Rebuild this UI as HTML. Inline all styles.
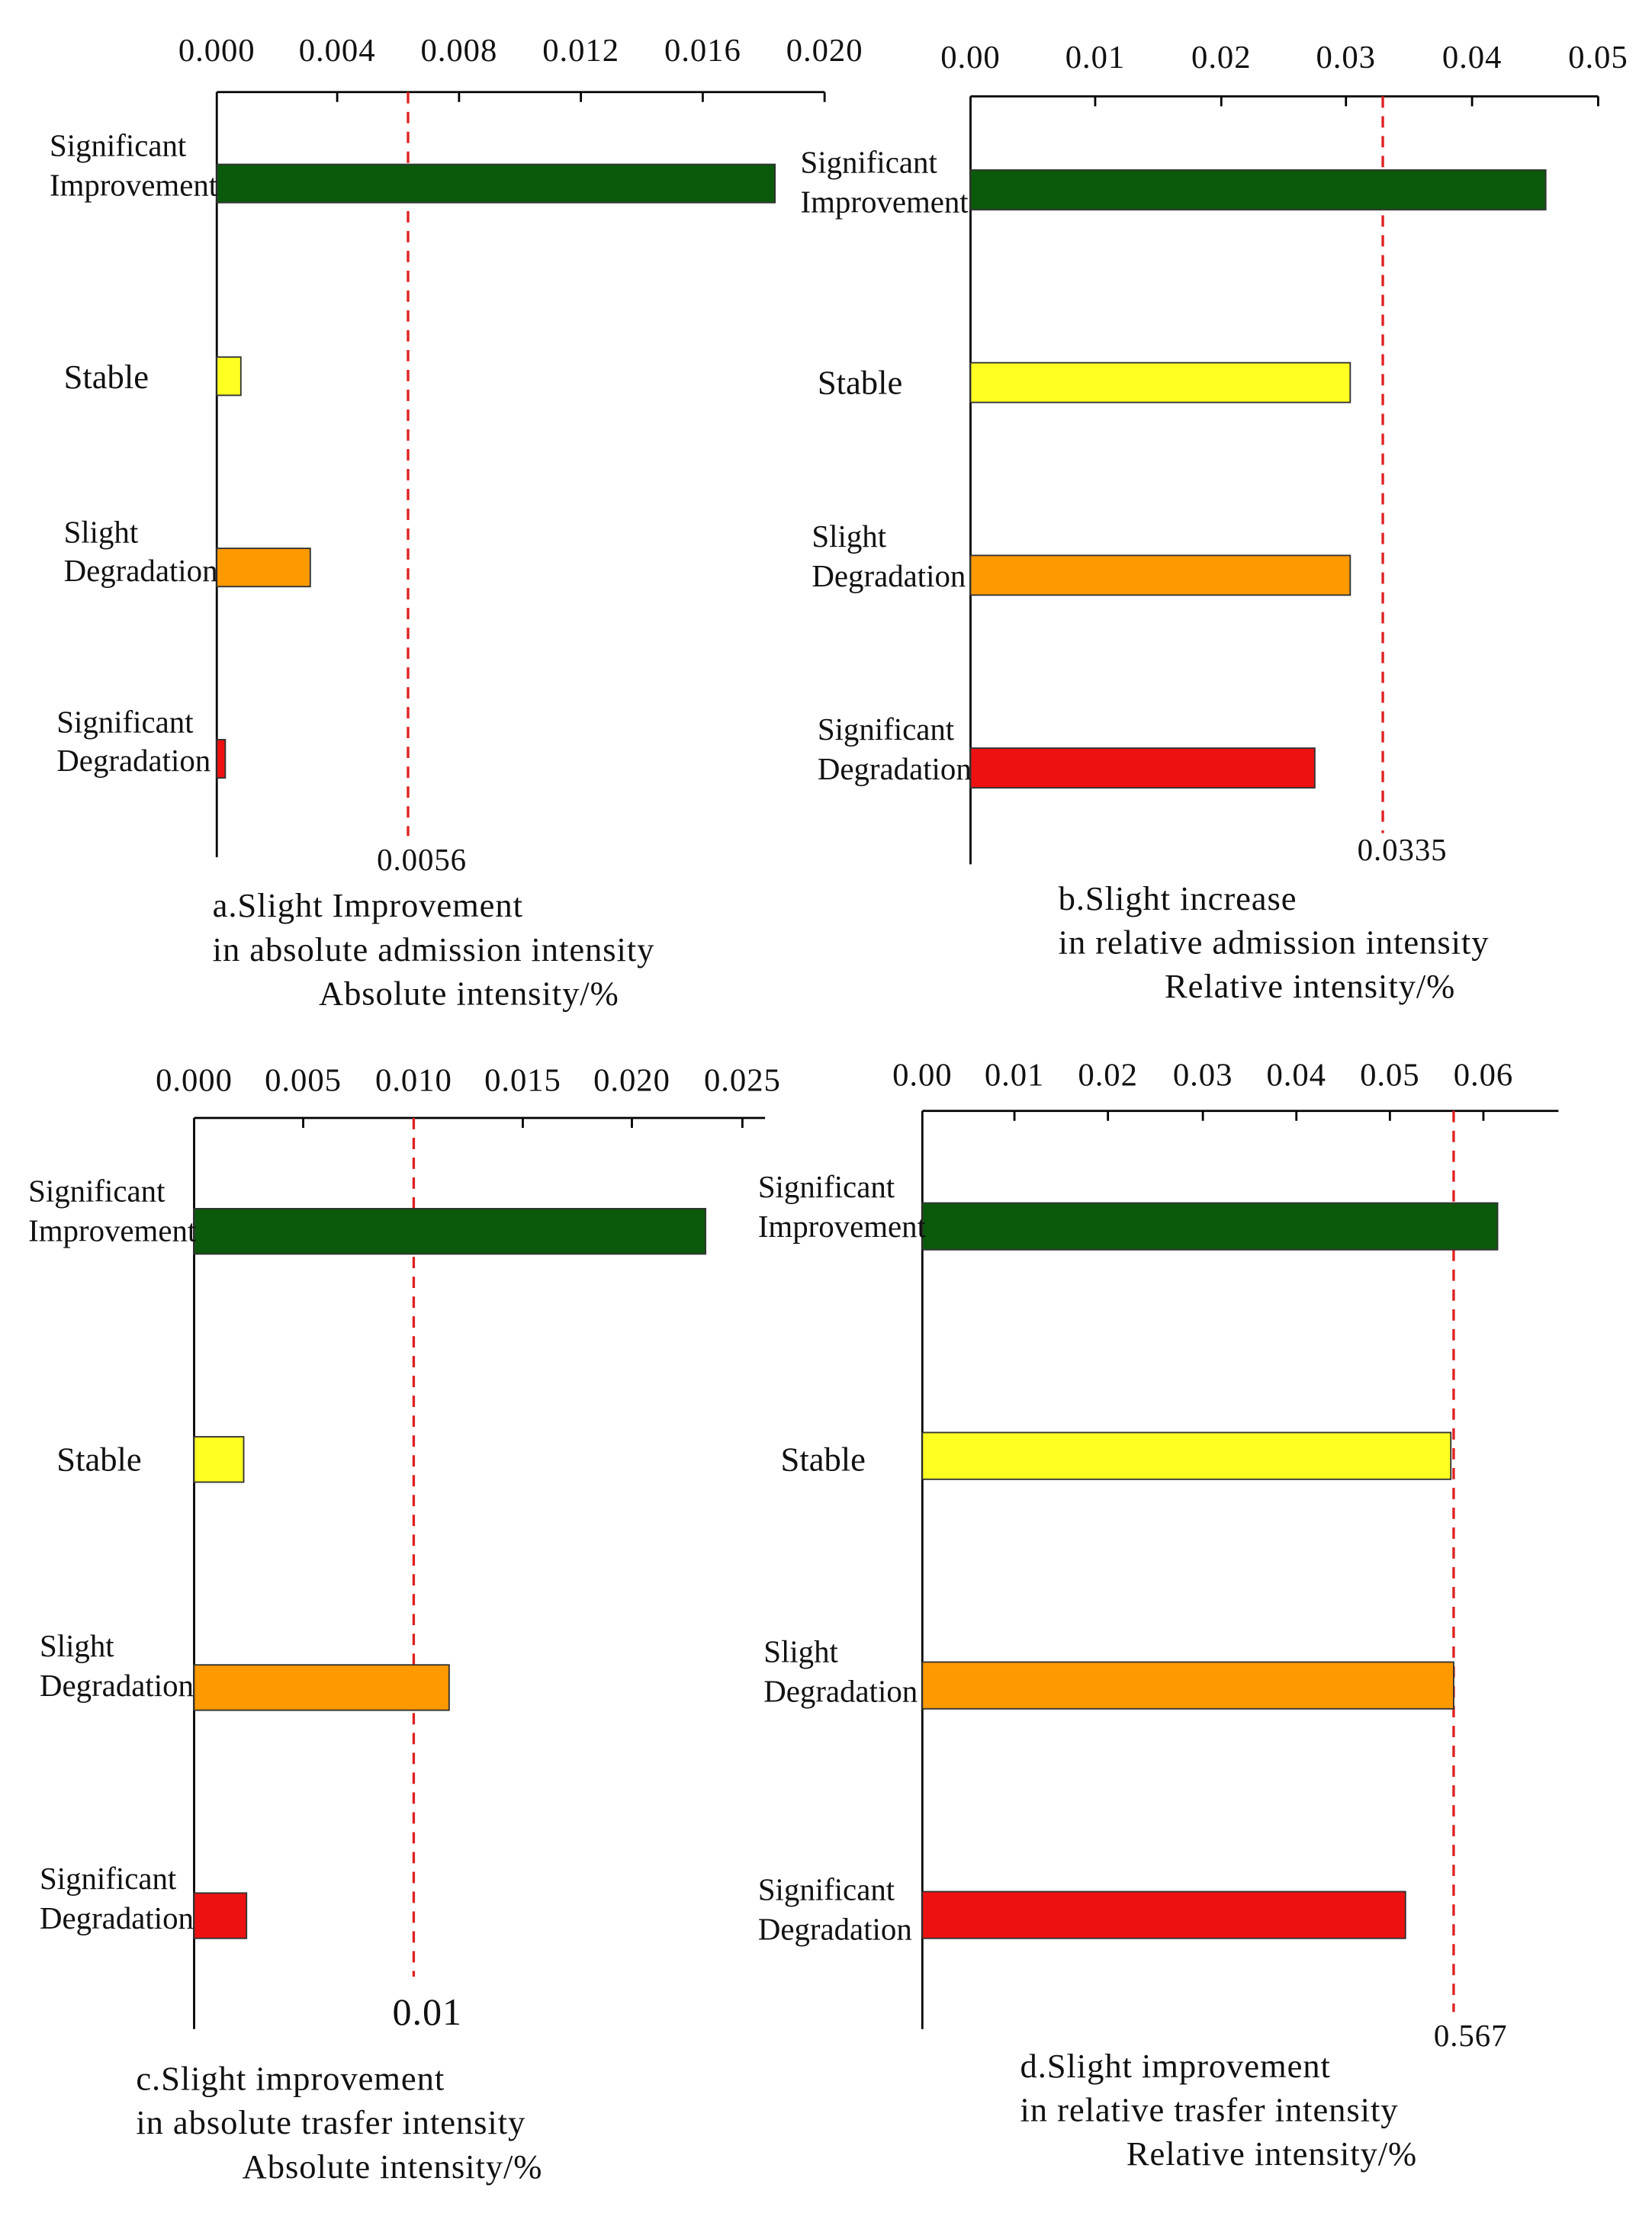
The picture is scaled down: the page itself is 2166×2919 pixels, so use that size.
<!DOCTYPE html>
<html><head><meta charset="utf-8"><style>
html,body{margin:0;padding:0;background:#fff;}
svg{display:block;}
text{font-family:"Liberation Serif",serif;fill:#111;}
.t{font-size:22px;}
.c{font-size:24px;letter-spacing:0.5px;}
.k{font-size:23px;letter-spacing:0.5px;text-anchor:middle;}
</style></head><body>
<svg width="2166" height="2919" viewBox="0 0 1166 1571" preserveAspectRatio="none" xmlns="http://www.w3.org/2000/svg">
<rect width="1166" height="1571" fill="#fff"/>
<g stroke="#000" stroke-width="1.5" fill="none">
<path d="M153 65H582M153 65V605M238 65v7M324 65v7M410 65v7M496 65v7M582 65v7"/>
<path d="M685 68H1128M685 68V610M773 68v7M862 68v7M950 68v7M1039 68v7M1128 68v7"/>
<path d="M137 789H540M137 789V1432M214 789v7M292 789v7M369 789v7M446 789v7M524 789v7"/>
<path d="M651 784H1100M651 784V1432M716 784v7M782 784v7M849 784v7M915 784v7M981 784v7M1047 784v7"/>
</g>
<g stroke="#e02020" stroke-width="1.8" stroke-dasharray="8,6">
<line x1="288" y1="65" x2="288" y2="590"/>
<line x1="976" y1="68" x2="976" y2="588"/>
<line x1="292" y1="789" x2="292" y2="1395"/>
<line x1="1026" y1="784" x2="1026" y2="1420"/>
</g>
<g stroke="#333" stroke-width="1">
<rect x="153" y="116" width="394" height="27" fill="#0b5a0b"/>
<rect x="153" y="252" width="17" height="27" fill="#ffff22"/>
<rect x="153" y="387" width="66" height="27" fill="#ff9900"/>
<rect x="153" y="522" width="6" height="27" fill="#ee1111"/>
<rect x="685" y="120" width="406" height="28" fill="#0b5a0b"/>
<rect x="685" y="256" width="268" height="28" fill="#ffff22"/>
<rect x="685" y="392" width="268" height="28" fill="#ff9900"/>
<rect x="685" y="528" width="243" height="28" fill="#ee1111"/>
<rect x="137" y="853" width="361" height="32" fill="#0b5a0b"/>
<rect x="137" y="1014" width="35" height="32" fill="#ffff22"/>
<rect x="137" y="1175" width="180" height="32" fill="#ff9900"/>
<rect x="137" y="1336" width="37" height="32" fill="#ee1111"/>
<rect x="651" y="849" width="406" height="33" fill="#0b5a0b"/>
<rect x="651" y="1011" width="373" height="33" fill="#ffff22"/>
<rect x="651" y="1173" width="375" height="33" fill="#ff9900"/>
<rect x="651" y="1335" width="341" height="33" fill="#ee1111"/>
</g>
<g class="k">
<text x="153" y="43">0.000</text><text x="238" y="43">0.004</text><text x="324" y="43">0.008</text><text x="410" y="43">0.012</text><text x="496" y="43">0.016</text><text x="582" y="43">0.020</text>
<text x="685" y="48">0.00</text><text x="773" y="48">0.01</text><text x="862" y="48">0.02</text><text x="950" y="48">0.03</text><text x="1039" y="48">0.04</text><text x="1128" y="48">0.05</text>
<text x="137" y="770">0.000</text><text x="214" y="770">0.005</text><text x="292" y="770">0.010</text><text x="369" y="770">0.015</text><text x="446" y="770">0.020</text><text x="524" y="770">0.025</text>
<text x="651" y="766">0.00</text><text x="716" y="766">0.01</text><text x="782" y="766">0.02</text><text x="849" y="766">0.03</text><text x="915" y="766">0.04</text><text x="981" y="766">0.05</text><text x="1047" y="766">0.06</text>
</g>
<g class="t">
<text x="35" y="110">Significant</text><text x="35" y="138">Improvement</text>
<text x="45" y="274" style="font-size:24px">Stable</text>
<text x="45" y="383">Slight</text><text x="45" y="410">Degradation</text>
<text x="40" y="517">Significant</text><text x="40" y="544">Degradation</text>
<text x="565" y="122">Significant</text><text x="565" y="150">Improvement</text>
<text x="577" y="278" style="font-size:24px">Stable</text>
<text x="573" y="386">Slight</text><text x="573" y="414">Degradation</text>
<text x="577" y="522">Significant</text><text x="577" y="550">Degradation</text>
<text x="20" y="848">Significant</text><text x="20" y="876">Improvement</text>
<text x="40" y="1038" style="font-size:24px">Stable</text>
<text x="28" y="1169">Slight</text><text x="28" y="1197">Degradation</text>
<text x="28" y="1333">Significant</text><text x="28" y="1361">Degradation</text>
<text x="535" y="845">Significant</text><text x="535" y="873">Improvement</text>
<text x="551" y="1038" style="font-size:24px">Stable</text>
<text x="539" y="1173">Slight</text><text x="539" y="1201">Degradation</text>
<text x="535" y="1341">Significant</text><text x="535" y="1369">Degradation</text>
</g>
<g class="c">
<text x="266" y="614" style="font-size:22px">0.0056</text>
<text x="958" y="607" style="font-size:22px">0.0335</text>
<text x="277" y="1429" style="font-size:27px">0.01</text>
<text x="1012" y="1444" style="font-size:22px">0.567</text>
<text x="150" y="647">a.Slight Improvement</text>
<text x="150" y="678">in absolute admission intensity</text>
<text x="225" y="709">Absolute intensity/%</text>
<text x="747" y="642">b.Slight increase</text>
<text x="747" y="673">in relative admission intensity</text>
<text x="822" y="704">Relative intensity/%</text>
<text x="96" y="1475">c.Slight improvement</text>
<text x="96" y="1506">in absolute trasfer intensity</text>
<text x="171" y="1537">Absolute intensity/%</text>
<text x="720" y="1466">d.Slight improvement</text>
<text x="720" y="1497">in relative trasfer intensity</text>
<text x="795" y="1528">Relative intensity/%</text>
</g>
</svg>
</body></html>
